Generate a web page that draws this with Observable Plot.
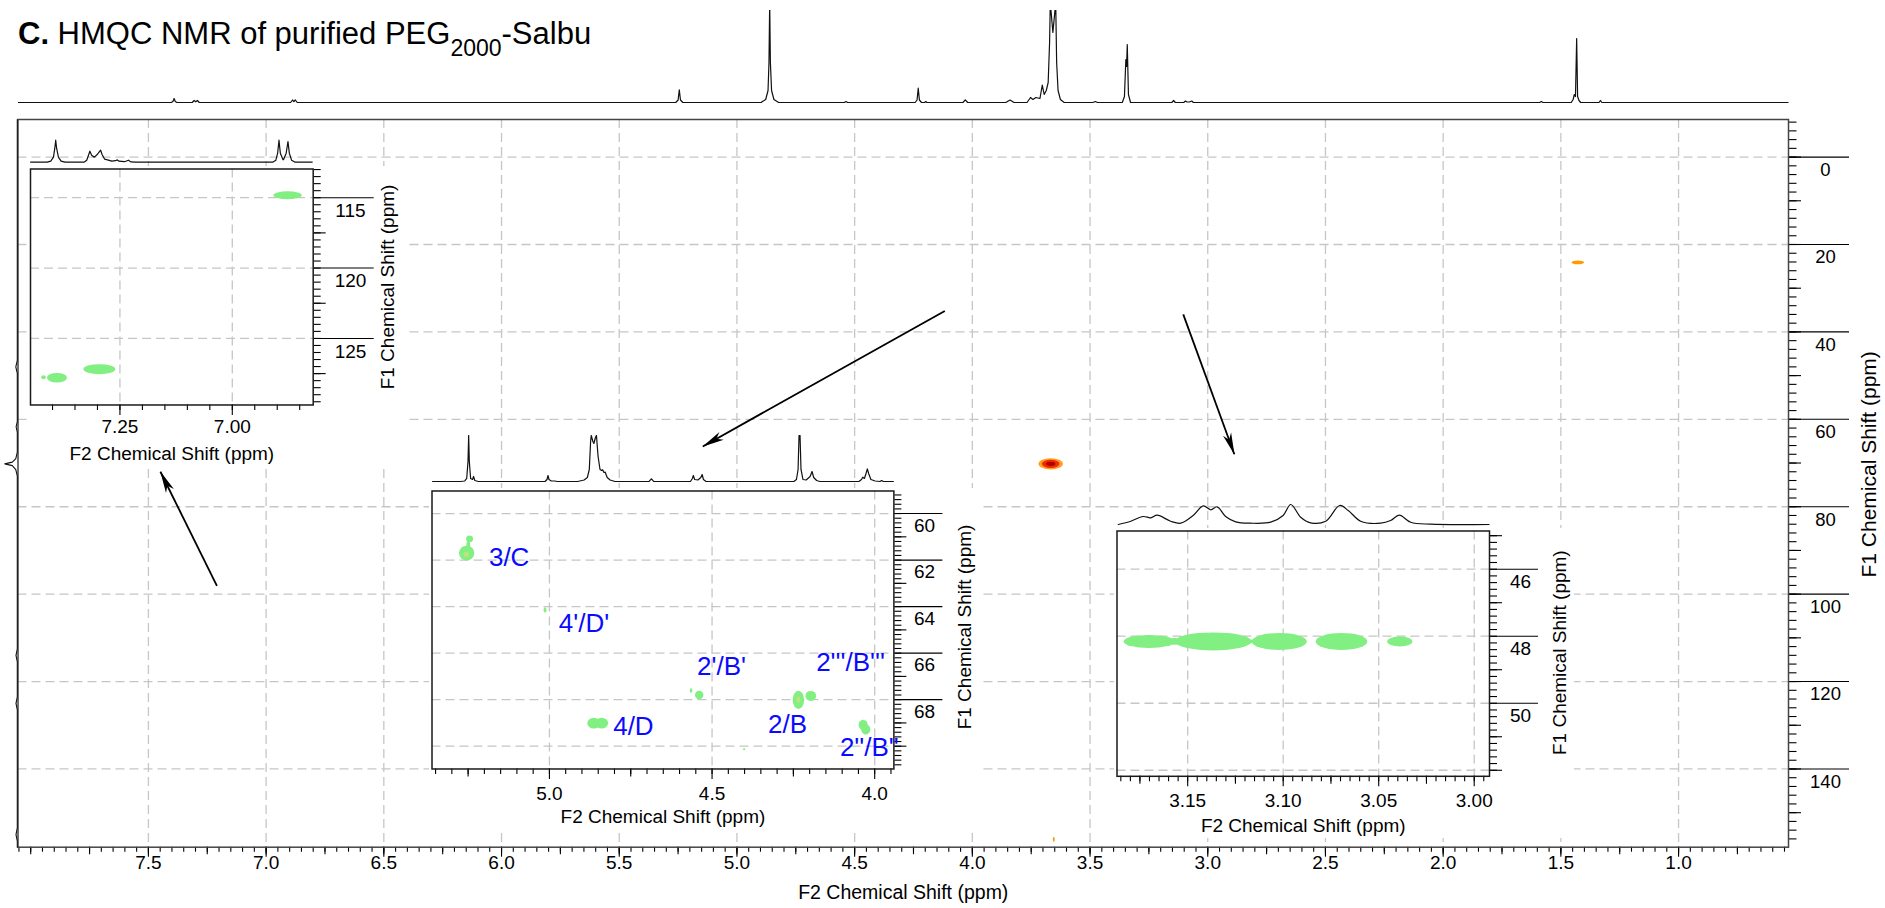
<!DOCTYPE html>
<html>
<head>
<meta charset="utf-8">
<script src="https://cdn.jsdelivr.net/npm/d3@7"></script>
<script src="https://cdn.jsdelivr.net/npm/@observablehq/plot@0.6"></script>
<style>
  html,body{margin:0;padding:0;background:#fff;}
  #wrap{position:relative;width:1885px;height:908px;overflow:hidden;font-family:"Liberation Sans",Arial,Helvetica,sans-serif;}
  #title{position:absolute;left:18px;top:18px;font-size:31px;line-height:31px;white-space:nowrap;color:#000;z-index:10;}
  #title sub{font-size:23px;vertical-align:-12px;line-height:0;}
</style>
</head>
<body>
<div id="wrap"><div id="title"><b>C.</b> HMQC NMR of purified PEG<sub>2000</sub>-Salbu</div></div>
<script>
// ======================= DATA =======================
const F2_TITLE = "F2 Chemical Shift (ppm)";
const F1_TITLE = "F1 Chemical Shift (ppm)";

// ---- main 2D HMQC ----
const mainXDomain = [8.054, 0.533];
const mainYDomain = [157.9, -8.6];
const mainXTicks = [7.5, 7.0, 6.5, 6.0, 5.5, 5.0, 4.5, 4.0, 3.5, 3.0, 2.5, 2.0, 1.5, 1.0];
const mainYTicks = [0, 20, 40, 60, 80, 100, 120, 140];
// cross peaks [F2 ppm, F1 ppm, half-width F2, half-width F1]
const pegPeak = [[3.665, 70.3, 0.052, 1.3]];
const tBuPeak = [[1.426, 24.2, 0.027, 0.45]];
const minorPeak = [[3.652, 156.2, 0.004, 0.6]];
// 1H projection (top): [ppm, intensity]
const mainSpectrum = [
  [8.054,0],[7.405,0],[7.398,1],[7.393,4],[7.388,1],[7.381,0],
  [7.316,0],[7.308,2],[7.301,0.7],[7.294,2],[7.286,0],
  [6.898,0],[6.890,2.5],[6.884,0.8],[6.878,2.5],[6.870,0],
  [5.262,0],[5.252,2.5],[5.247,12.7],[5.242,2.5],[5.232,0],
  [4.900,0],[4.880,3],[4.870,12],[4.866,40],[4.863,100],[4.860,40],[4.855,12],[4.845,3],[4.825,0],
  [4.546,0],[4.539,1],[4.532,0],
  [4.245,0],[4.237,2.5],[4.232,14.3],[4.227,2.5],[4.218,0],[4.205,0],[4.200,1],[4.195,0],
  [4.042,0],[4.032,2.7],[4.022,0],
  [3.860,0],[3.842,2.5],[3.825,0],
  [3.770,0],[3.755,5],[3.745,3],[3.732,5],[3.715,4],[3.705,17.3],[3.697,8],[3.688,12],[3.680,20],[3.674,60],[3.671,100],[3.660,70],[3.648,100],[3.644,40],[3.638,12],[3.628,3],[3.612,0],
  [3.490,0],[3.480,1],[3.470,0],
  [3.365,0],[3.356,6],[3.350,43],[3.347,36],[3.344,58],[3.339,8],[3.330,0],
  [3.155,0],[3.147,2],[3.140,0],[3.104,0],[3.097,1.5],[3.090,0.5],[3.080,0.5],[3.070,1.5],[3.063,0],
  [1.592,0],[1.585,1],[1.578,0],
  [1.458,0],[1.450,3],[1.445,8],[1.440,6],[1.435,64],[1.431,6],[1.425,2],[1.418,0],
  [1.340,0],[1.334,2],[1.328,0],
  [0.533,0]
];
// 13C projection (left): [ppm, intensity]
const f1Projection = [
  [-8.6,0],[46.5,0],[48,1.5],[49.5,0],[60.5,0],[61.7,1.2],[63,0],[67.5,0],[69,1.5],[69.8,5],[70.2,12.5],
  [70.6,5],[71.5,1.5],[73,0],[112.5,0],[114,1.3],[115.5,0],[123.5,0],[125,1.3],[126.5,0],[153.5,0],[155,1.3],[156.5,0],[157.9,0]
];
// arrows [F2 ppm, F1 ppm]
const arrowFrom = [[7.209, 98.1], [4.117, 35.2], [3.104, 36.0]];
const arrowTo   = [[7.449, 72.0], [5.145, 66.2], [2.887, 68.0]];

// ---- inset: aromatic region ----
const aromXDomain = [7.449, 6.820];
const aromYDomain = [129.73, 112.96];
const aromXTicks = [7.25, 7.00];
const aromYTicks = [115, 120, 125];
const aromPeaks = [[6.8758, 114.86, 0.0316, 0.284], [7.2947, 127.22, 0.0353, 0.356], [7.389, 127.83, 0.0223, 0.341], [7.419, 127.8, 0.0052, 0.142]];
const aromSpectrum = [
  [7.449,0],[7.412,0],[7.404,1],[7.398,5],[7.395,14],[7.393,22],[7.391,14],[7.387,5],[7.381,1],[7.372,0],
  [7.330,0],[7.324,2],[7.320,7],[7.317,11],[7.313,7],[7.307,5],[7.300,8],[7.293,12],[7.290,8],[7.284,3],[7.276,2],[7.268,1],
  [7.260,1.5],[7.256,2.3],[7.252,1],[7.240,0.5],[7.231,2],[7.226,0.3],[7.215,0],
  [6.910,0],[6.903,2],[6.899,9],[6.896,22],[6.893,9],[6.887,2.5],[6.886,2.5],[6.880,9],[6.876,20.7],[6.873,9],[6.868,2],[6.860,0],[6.820,0]
];

// ---- inset: sugar / PEG region ----
const sugarXDomain = [5.361, 3.941];
const sugarYDomain = [70.98, 59.03];
const sugarXTicks = [5.0, 4.5, 4.0];
const sugarYTicks = [60, 62, 64, 66, 68];
const sugarGridY = [60, 62, 64, 66, 68, 70];
const sugarPeaks = [
  [5.253, 61.72, 0.0235, 0.32], [5.244, 61.11, 0.0105, 0.143], [5.248, 61.4, 0.006, 0.2],
  [5.012, 64.16, 0.0046, 0.115],
  [4.538, 67.82, 0.013, 0.186], [4.563, 67.63, 0.004, 0.1],
  [4.233, 68.03, 0.0176, 0.394], [4.195, 67.86, 0.0165, 0.215],
  [4.862, 69.03, 0.02, 0.229], [4.838, 69.03, 0.02, 0.229],
  [4.034, 69.1, 0.014, 0.22], [4.026, 69.3, 0.014, 0.22],
  [4.400, 70.15, 0.003, 0.05]
];
const sugarCores = [[5.254, 61.78, 0.008, 0.12], [4.233, 68.03, 0.006, 0.13]];
const sugarLabelText = ["3/C", "4'/D'", "2'/B'", "2'''/B'''", "4/D", "2/B", "2''/B''"];
const sugarLabelX = [5.186, 4.971, 4.546, 4.180, 4.804, 4.328, 4.107];
const sugarLabelY = [62.25, 65.09, 66.95, 66.77, 69.54, 69.42, 70.44];
const sugarSpectrum = [
  [5.361,0],[5.275,0],[5.262,0.5],[5.256,3],[5.252,20],[5.250,46],[5.248,20],[5.244,3],[5.238,2],[5.235,5],[5.231,1],[5.220,0],
  [5.015,0],[5.009,2],[5.006,6],[5.003,2],[4.996,0.5],[4.985,0.5],[4.978,0],
  [4.915,0],[4.895,1.5],[4.885,4],[4.879,12],[4.875,40],[4.873,46],[4.868,40],[4.865,38],[4.860,44],[4.857,46],[4.852,25],[4.846,12],
  [4.841,11],[4.838,11.7],[4.834,9],[4.830,9.3],[4.824,4],[4.815,1.5],[4.800,0],
  [4.695,0],[4.688,2.7],[4.681,0],
  [4.568,0],[4.562,3],[4.559,6],[4.555,2],[4.545,1.5],[4.536,4],[4.532,7],[4.528,2],[4.520,0],
  [4.250,0],[4.242,2],[4.237,12],[4.234,46],[4.231,46],[4.228,12],[4.222,2],[4.212,1.5],[4.200,5],[4.194,10],[4.189,4],[4.180,1],[4.170,0],
  [4.050,0],[4.042,2],[4.038,4.3],[4.033,3],[4.028,8],[4.024,12.7],[4.020,8],[4.013,2],[4.000,0.5],[3.985,0],[3.980,1],[3.975,0],[3.941,0]
];

// ---- inset: N-CH2 region ----
const nchXDomain = [3.187, 2.992];
const nchYDomain = [52.18, 44.86];
const nchXTicks = [3.15, 3.10, 3.05, 3.00];
const nchYTicks = [46, 48, 50];
const nchGridY = [46, 48, 50, 52];
const nchPeaks = [
  [3.1699, 48.17, 0.0134, 0.194], [3.1566, 48.17, 0.004, 0.1], [3.1364, 48.17, 0.0202, 0.269],
  [3.1162, 48.17, 0.003, 0.05], [3.1018, 48.17, 0.0144, 0.254], [3.0692, 48.17, 0.0135, 0.254], [3.0387, 48.17, 0.0066, 0.149]
];
const nchSpectrum = [
  [3.1866,0],[3.180,3.3],[3.1736,8],[3.1696,6.7],[3.1662,9.3],[3.1592,3.3],[3.1539,1.3],[3.1474,9],[3.1421,18.7],[3.1382,14.7],
  [3.1348,17.7],[3.1304,8],[3.1251,2.7],[3.1173,1.3],[3.1068,2.3],[3.1003,9],[3.0963,20],[3.0911,7.3],[3.0859,1.7],[3.0780,3.3],
  [3.0707,19],[3.0662,14],[3.0597,3.3],[3.0492,1.3],[3.0440,4],[3.0395,9.3],[3.0335,2.3],[3.0230,0.3],[2.992,0]
];

// ======================= RENDER =======================
const FONT = "Liberation Sans, Arial, Helvetica, sans-serif";
const GRID = {stroke: "#c6c6c6", strokeOpacity: 1, strokeWidth: 1.3, strokeDasharray: "9,5"};
const GREEN = "#82ef82";
const wrap = document.getElementById("wrap");
function place(el, left, top) {
  el.style.position = "absolute";
  el.style.left = left + "px";
  el.style.top = top + "px";
  el.style.maxWidth = "none";
  wrap.appendChild(el);
  return el;
}
const seq = (i0, i1, div) => d3.range(i0, i1 + 1).map(i => i / div);
const inDom = (v, d) => v.filter(t => t >= Math.min(d[0], d[1]) - 1e-9 && t <= Math.max(d[0], d[1]) + 1e-9);
const ticksX = (vals, size) => Plot.axisX(vals, {anchor: "bottom", tickSize: size, fill: "none", label: null, strokeWidth: 1.1});
const ticksY = (vals, size) => Plot.axisY(vals, {anchor: "right", tickSize: size, fill: "none", label: null, strokeWidth: 1.1});
const ell = (data, fill, k = 1) => Plot.rect(data, {
  x1: d => d[0] - d[2] * k, x2: d => d[0] + d[2] * k,
  y1: d => d[1] - d[3] * k, y2: d => d[1] + d[3] * k,
  fill, rx: 1000
});

// ---- main plot ----
const mainSvg = Plot.plot({
  width: 1885, height: 908,
  marginLeft: 17.5, marginRight: 97, marginTop: 119, marginBottom: 61.3,
  style: {fontFamily: FONT, background: "white", color: "black"},
  x: {domain: mainXDomain},
  y: {domain: mainYDomain},
  marks: [
    Plot.gridX(mainXTicks, GRID),
    Plot.gridY(mainYTicks, GRID),
    ticksX(inDom(seq(11, 161, 20), mainXDomain), 5),
    ticksX(inDom(seq(3, 32, 4), mainXDomain), 7.5),
    ticksX(mainXTicks, 10),
    Plot.text(mainXTicks, {x: d => d, frameAnchor: "bottom", dy: 22, lineAnchor: "bottom", text: d => d.toFixed(1), fontSize: 19}),
    ticksY(inDom(seq(-4, 78, 0.5), mainYDomain), 7.5),
    ticksY(inDom(seq(-1, 15, 0.1), mainYDomain), 12),
    ticksY(mainYTicks, 60),
    Plot.text(mainYTicks, {y: d => d, frameAnchor: "right", dx: 37, dy: 13, textAnchor: "middle", lineAnchor: "middle", text: d => String(d), fontSize: 18.5}),
    Plot.text([F2_TITLE], {frameAnchor: "bottom", dy: 51.3, lineAnchor: "bottom", textAnchor: "middle", text: d => d, fontSize: 19.5}),
    Plot.text([F1_TITLE], {frameAnchor: "right", dx: 81, dy: -19, rotate: -90, textAnchor: "middle", lineAnchor: "middle", text: d => d, fontSize: 21}),
    ell(pegPeak, "#ffa020", 1),
    ell(pegPeak, "#f02a00", 0.72),
    ell(pegPeak, "#b00000", 0.38),
    ell(tBuPeak, "#ff9a00", 1),
    ell(minorPeak, "#f0a020", 1),
    Plot.link(arrowFrom.map((f, i) => ({x1: f[0], y1: f[1], x2: arrowTo[i][0], y2: arrowTo[i][1]})),
      {x1: "x1", y1: "y1", x2: "x2", y2: "y2", stroke: "black", strokeWidth: 1.8}),
    Plot.frame({stroke: "#444", strokeWidth: 1.5})
  ]
});
place(mainSvg, 0, 0);
// filled arrowheads
{
  const ns = "http://www.w3.org/2000/svg";
  const defs = document.createElementNS(ns, "defs");
  defs.innerHTML = '<marker id="ahead" viewBox="0 0 22 10" refX="21.5" refY="5" markerWidth="22" markerHeight="10" markerUnits="userSpaceOnUse" orient="auto"><path d="M0,0.6 L22,5 L0,9.4 L6,5 Z" fill="#000"/></marker>';
  mainSvg.insertBefore(defs, mainSvg.firstChild);
  mainSvg.querySelectorAll('g[aria-label="link"] path').forEach(p => p.setAttribute("marker-end", "url(#ahead)"));
}

// ---- left 13C projection ----
place(Plot.plot({
  width: 19, height: 908, marginLeft: 3, marginRight: 2.2, marginTop: 119, marginBottom: 61.3,
  x: {domain: [13.8, 0], axis: null}, y: {domain: mainYDomain, axis: null},
  style: {background: "transparent"},
  marks: [Plot.line(f1Projection, {x: d => d[1], y: d => d[0], stroke: "#111", strokeWidth: 1.1})]
}), 0, 0);

// ---- spectrum helper ----
function makeSpectrum(data, xDom, FL, FR, baseY, topY, curve) {
  const H = baseY - topY;
  const svg = Plot.plot({
    width: FR - FL + 4, height: H + 6, marginLeft: 2, marginRight: 2, marginTop: 2, marginBottom: 2,
    x: {domain: xDom, axis: null}, y: {domain: [-2, H], axis: null},
    style: {background: "transparent"},
    marks: [Plot.line(data, {x: d => d[0], y: d => d[1], stroke: "#111", strokeWidth: 1.2, clip: true, curve: curve || "linear"})]
  });
  place(svg, FL - 2, topY - 2);
}

// main 1H projection
makeSpectrum(mainSpectrum, mainXDomain, 17.5, 1788, 102, 10);

// ---- inset helper ----
function makeInset(o) {
  const xd = o.xDom, yd = o.yDom;
  const w = o.FR - o.FL + o.padL + o.padR, h = o.FB - o.FT + o.padT + o.padB;
  const svg = Plot.plot({
    width: w, height: h, marginLeft: o.padL, marginRight: o.padR, marginTop: o.padT, marginBottom: o.padB,
    style: {fontFamily: FONT, background: "white", color: "black", overflow: "visible"},
    x: {domain: xd}, y: {domain: yd},
    marks: [
      Plot.gridX(o.gridX, GRID),
      Plot.gridY(o.gridY, GRID),
      ticksX(inDom(o.xMinor, xd), 5.5),
      ticksX(inDom(o.xMed, xd), 8),
      ticksX(o.xMajor, 10.5),
      Plot.text(o.xMajor, {x: d => d, frameAnchor: "bottom", dy: o.xLabDy, lineAnchor: "middle", textAnchor: "middle", text: o.xFmt, fontSize: 19}),
      ticksY(inDom(o.yMinor, yd), 7),
      ticksY(inDom(o.yMed, yd), 12),
      ticksY(o.yMajor, o.longTick),
      Plot.text(o.yMajor, {y: d => d, frameAnchor: "right", dx: o.yLabDx, dy: o.yLabDy, textAnchor: "middle", lineAnchor: "middle", text: d => String(d), fontSize: 19}),
      Plot.text([F2_TITLE], {frameAnchor: "bottom", dy: o.xTitleDy, lineAnchor: "middle", textAnchor: "middle", text: d => d, fontSize: 19}),
      Plot.text([F1_TITLE], {frameAnchor: "right", dx: o.yTitleDx, dy: o.yTitleDy, rotate: -90, textAnchor: "middle", lineAnchor: "middle", text: d => d, fontSize: 19}),
      ...o.marks,
      Plot.frame({stroke: "#1a1a1a", strokeWidth: 1.5})
    ]
  });
  place(svg, o.FL - o.padL, o.FT - o.padT);
}

// aromatic inset
makeInset({
  FL: 30, FR: 312.7, FT: 168.3, FB: 404.3, padL: 2, padR: 92, padT: 2.5, padB: 62,
  xDom: aromXDomain, yDom: aromYDomain,
  gridX: aromXTicks, gridY: aromYTicks,
  xMinor: seq(137, 148, 20), xMed: [], xMajor: aromXTicks, xFmt: d => d.toFixed(2), xLabDy: 22.4, xTitleDy: 49,
  yMinor: seq(226, 259, 2), yMed: [112.5, 117.5, 122.5, 127.5], yMajor: aromYTicks, longTick: 60,
  yLabDx: 37.3, yLabDy: 13, yTitleDx: 75, yTitleDy: 0,
  marks: [ell(aromPeaks, GREEN)]
});
makeSpectrum(aromSpectrum, aromXDomain, 30, 312.7, 161.7, 136);

// sugar inset
makeInset({
  FL: 431.8, FR: 893.7, FT: 490.7, FB: 768.7, padL: 2.5, padR: 85, padT: 2.5, padB: 63,
  xDom: sugarXDomain, yDom: sugarYDomain,
  gridX: sugarXTicks, gridY: sugarGridY,
  xMinor: seq(79, 107, 20), xMed: [4.25, 4.75, 5.25], xMajor: sugarXTicks, xFmt: d => d.toFixed(1), xLabDy: 24.6, xTitleDy: 48,
  yMinor: seq(296, 354, 5), yMed: [59, 61, 63, 65, 67, 69, 70], yMajor: sugarYTicks, longTick: 48,
  yLabDx: 30.6, yLabDy: 12, yTitleDx: 70.8, yTitleDy: -3,
  marks: [
    ell(sugarPeaks, GREEN),
    ell(sugarCores, "#bfe27a"),
    Plot.text(sugarLabelText, {x: (d, i) => sugarLabelX[i], y: (d, i) => sugarLabelY[i], text: d => d,
      textAnchor: "start", lineAnchor: "bottom", fill: "#0a0aff", fontSize: 26})
  ]
});
makeSpectrum(sugarSpectrum, sugarXDomain, 431.8, 893.7, 481, 435);

// N-CH inset
makeInset({
  FL: 1116.5, FR: 1489, FT: 530, FB: 775.3, padL: 2.5, padR: 85, padT: 2.5, padB: 63,
  xDom: nchXDomain, yDom: nchYDomain,
  gridX: nchXTicks, gridY: nchGridY,
  xMinor: seq(599, 637, 200), xMed: [3.025, 3.075, 3.125, 3.175], xMajor: nchXTicks, xFmt: d => d.toFixed(2), xLabDy: 24.7, xTitleDy: 49.7,
  yMinor: seq(225, 260, 5), yMed: [45, 47, 49, 51, 52], yMajor: nchYTicks, longTick: 48,
  yLabDx: 31, yLabDy: 13, yTitleDx: 70, yTitleDy: -1,
  marks: [ell(nchPeaks, GREEN)]
});
makeSpectrum(nchSpectrum, nchXDomain, 1116.5, 1489, 524, 498, "catmull-rom");
</script>
</body>
</html>
